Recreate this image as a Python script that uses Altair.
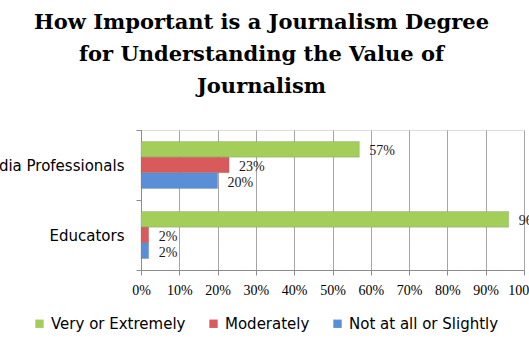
import altair as alt
import pandas as pd

groups = ["Media Professionals", "Educators"]
series = ["Very or Extremely", "Moderately", "Not at all or Slightly"]
media_values = [57, 23, 20]
educator_values = [96, 2, 2]
colors = ["#A3CE5A", "#D85A5B", "#5A8FD8"]
x_ticks = list(range(0, 101, 10))

rows = []
for g, vals in zip(groups, [media_values, educator_values]):
    for s, v in zip(series, vals):
        rows.append({"group": g, "series": s, "value": v, "label": f"{v}%"})
df = pd.DataFrame(rows)

SERIF = "Liberation Serif"
TITLE_FONT = "DejaVu Serif"
SANS = "DejaVu Sans"

base = alt.Chart(df).encode(
    y=alt.Y(
        "group:N",
        sort=groups,
        scale=alt.Scale(paddingInner=0, paddingOuter=0),
        axis=alt.Axis(
            title=None,
            ticks=True,
            tickBand="extent",
            tickSize=5,
            tickColor="#8C8C8C",
            domainColor="#8C8C8C",
            labelFont=SANS,
            labelFontSize=15,
            labelColor="black",
            labelPadding=12,
        ),
    ),
    yOffset=alt.YOffset(
        "series:N", sort=series, scale=alt.Scale(paddingInner=0, paddingOuter=0.73)
    ),
    x=alt.X(
        "value:Q",
        scale=alt.Scale(domain=[0, 100], nice=False),
        axis=alt.Axis(
            title=None,
            values=x_ticks,
            labelExpr="datum.value + '%'",
            labelOverlap=False,
            labelFlush=False,
            grid=True,
            gridColor="#A6A6A6",
            domainColor="#8C8C8C",
            tickColor="#8C8C8C",
            tickSize=5,
            labelFont=SERIF,
            labelFontSize=14,
            labelColor="black",
            labelPadding=8,
        ),
    ),
)

bars = base.mark_bar(stroke="#6E6E6E", strokeWidth=0.4, strokeOpacity=0.6).encode(
    color=alt.Color(
        "series:N",
        sort=series,
        scale=alt.Scale(domain=series, range=colors),
        legend=alt.Legend(
            title=None,
            orient="none",
            direction="horizontal",
            legendX=-109,
            legendY=186,
            symbolType="square",
            symbolSize=70,
            symbolStrokeWidth=0,
            labelFont=SANS,
            labelFontSize=15,
            labelColor="black",
            labelOffset=4,
            columnPadding=20,
        ),
    )
)

labels = base.mark_text(
    align="left", baseline="middle", dx=10, dy=2, font=SERIF, fontSize=14, color="#1A1A1A"
).encode(text="label:N")

chart = (
    alt.layer(bars, labels)
    .properties(
        width=383,
        height=140,
        title=alt.TitleParams(
            text=[
                "How Important is a Journalism Degree",
                "for Understanding the Value of",
                "Journalism",
            ],
            font=TITLE_FONT,
            fontSize=21,
            fontWeight="bold",
            color="black",
            lineHeight=32,
            anchor="middle",
            dx=-71,
            offset=26,
        ),
        autosize=alt.AutoSizeParams(type="none"),
        padding={"left": 141, "top": 130, "right": 5, "bottom": 83},
    )
    .configure_view(stroke=None)
    .configure(background="white")
)

chart.save("out.html", embed_options={"renderer": "svg", "actions": False})
